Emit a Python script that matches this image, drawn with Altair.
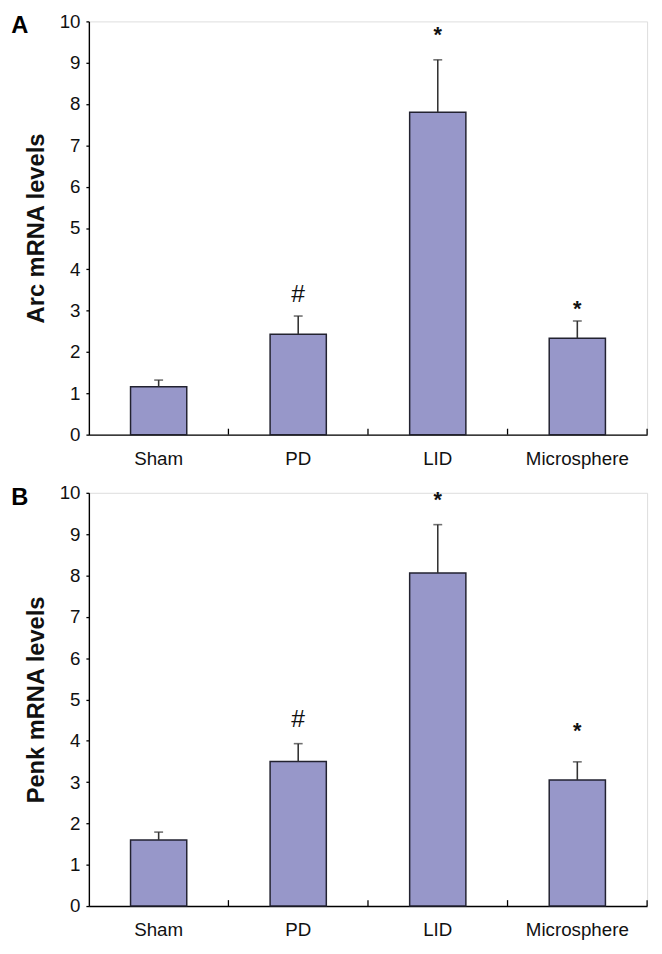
import altair as alt
import pandas as pd

categories = ["Sham", "PD", "LID", "Microsphere"]

arc_mean = [1.16, 2.43, 7.80, 2.33]
arc_err_top = [1.32, 2.87, 9.07, 2.75]
arc_marks = ["", "#", "*", "*"]
arc_mark_y = [None, 3.44, 9.77, 3.14]

penk_mean = [1.60, 3.50, 8.06, 3.05]
penk_err_top = [1.79, 3.93, 9.23, 3.49]
penk_marks = ["", "#", "*", "*"]
penk_mark_y = [None, 4.57, 9.93, 4.33]

y_ticks = list(range(0, 11))
boundary_cats = ["PD", "LID", "Microsphere"]

W = 566
H = 419
FONT = "Liberation Sans, Arial, Helvetica, sans-serif"
BAR_FILL = "#9797C9"
BAR_STROKE = "#222230"

xscale = alt.Scale(domain=categories, paddingInner=0, paddingOuter=0)
yscale = alt.Scale(domain=[0, 10], nice=False)


def panel(letter, title, mean, err, marks, mark_y):
    df = pd.DataFrame({"cat": categories, "mean": mean, "err": err})
    ann = pd.DataFrame({"cat": categories, "sym": marks, "y": mark_y}).dropna()

    xenc = alt.X("cat:N", scale=xscale, sort=categories,
                 axis=alt.Axis(title=None, ticks=False, tickSize=0, labelAngle=0,
                               labelFontSize=19, labelPadding=15,
                               labelFont=FONT, labelColor="#111",
                               domainColor="#000", domainWidth=1.4))
    yenc = alt.Y("mean:Q", scale=yscale,
                 axis=alt.Axis(title=title, values=y_ticks, grid=False,
                               tickSize=3, tickColor="#000", tickWidth=1.3,
                               domainColor="#000", domainWidth=1.4,
                               labelFontSize=19, labelFont=FONT, labelColor="#111",
                               labelPadding=6, titleFont=FONT, titleFontSize=24,
                               titleFontWeight="bold", titleColor="#111",
                               titlePadding=11))

    bars = alt.Chart(df).mark_bar(width=57, fill=BAR_FILL, stroke=BAR_STROKE,
                                  strokeWidth=1.5).encode(x=xenc, y=yenc)
    err_line = alt.Chart(df).mark_rule(color="#333", strokeWidth=1.6).encode(
        x=alt.X("cat:N", scale=xscale, sort=categories),
        y=alt.Y("mean:Q", scale=yscale), y2="err:Q")
    cap = alt.Chart(df).mark_tick(color="#333", size=9, thickness=1.6,
                                  orient="horizontal").encode(
        x=alt.X("cat:N", scale=xscale, sort=categories),
        y=alt.Y("err:Q", scale=yscale))
    hash_txt = alt.Chart(ann).transform_filter(alt.datum.sym == "#").mark_text(
        fontSize=25, font=FONT, color="#111", baseline="middle", dy=2).encode(
        x=alt.X("cat:N", scale=xscale, sort=categories),
        y=alt.Y("y:Q", scale=yscale), text="sym:N")
    star_txt = alt.Chart(ann).transform_filter(alt.datum.sym == "*").mark_text(
        fontSize=22, fontWeight="bold", font=FONT, color="#111",
        baseline="middle", dy=4).encode(
        x=alt.X("cat:N", scale=xscale, sort=categories),
        y=alt.Y("y:Q", scale=yscale), text="sym:N")
    ticks_in = alt.Chart(pd.DataFrame({"cat": boundary_cats})).mark_rule(
        color="#000", strokeWidth=1.3).encode(
        x=alt.X("cat:N", scale=xscale, sort=categories, bandPosition=0),
        y=alt.value(H - 6), y2=alt.value(H))
    tick_end = alt.Chart(pd.DataFrame({"cat": ["Microsphere"]})).mark_rule(
        color="#000", strokeWidth=1.3).encode(
        x=alt.X("cat:N", scale=xscale, sort=categories, bandPosition=1),
        y=alt.value(H - 6), y2=alt.value(H))
    lab = alt.Chart(pd.DataFrame({"t": [letter]})).mark_text(
        fontSize=24, fontWeight="bold", font=FONT, color="#000",
        align="center", baseline="middle").encode(
        text="t:N", x=alt.value(-70), y=alt.value(5))

    return alt.layer(bars, err_line, cap, hash_txt, star_txt, ticks_in, tick_end,
                     lab).properties(width=W, height=H)


pa = panel("A", "Arc mRNA levels", arc_mean, arc_err_top, arc_marks, arc_mark_y)
pb = panel("B", "Penk mRNA levels", penk_mean, penk_err_top, penk_marks, penk_mark_y)

chart = alt.vconcat(pa, pb, spacing=59, bounds="flush").properties(
    padding={"left": 2, "top": -3, "right": 5, "bottom": 5}
).configure_view(stroke=None).configure(background="white")

chart.save("out.html", embed_options={"renderer": "svg", "actions": False})
